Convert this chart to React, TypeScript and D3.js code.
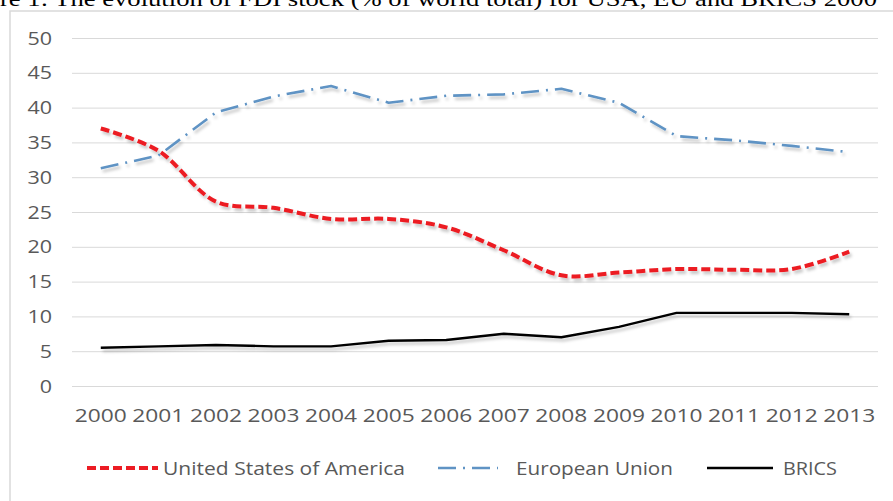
import React, { useRef, useEffect } from 'react';
import * as d3 from 'd3';

const years = ['2000', '2001', '2002', '2003', '2004', '2005', '2006', '2007', '2008', '2009', '2010', '2011', '2012', '2013'];
const usa = [37.0, 33.8, 26.5, 25.6, 24.0, 24.0, 22.8, 19.5, 15.9, 16.3, 16.8, 16.7, 16.8, 19.3];
const eu = [31.3, 33.1, 39.3, 41.6, 43.1, 40.7, 41.7, 41.9, 42.7, 40.7, 35.9, 35.3, 34.5, 33.6];
const brics = [5.5, 5.7, 5.9, 5.7, 5.7, 6.5, 6.6, 7.5, 7.0, 8.5, 10.5, 10.5, 10.5, 10.3];
const yTicks = [0, 5, 10, 15, 20, 25, 30, 35, 40, 45, 50];
const seriesNames = ['United States of America', 'European Union', 'BRICS'];
const title = 're 1: The evolution of FDI stock (% of world total) for USA, EU and BRICS 2000';

const W = 893;
const H = 501;
const FONT = '"Open Sans", "DejaVu Sans", sans-serif';
const TEXT = '#595959';

const App: React.FC = () => {
  const svgRef = useRef<SVGSVGElement>(null);

  useEffect(() => {
    if (!svgRef.current) return;
    const svg = d3.select(svgRef.current);
    svg.selectAll('*').remove();

    const x = d3.scaleBand<string>().domain(years).range([72, 878]);
    const y = d3.scaleLinear().domain([0, 50]).range([386, 38]);
    const cx = (d: string) => (x(d) as number) + x.bandwidth() / 2;

    const defs = svg.append('defs');
    defs.append('filter')
      .attr('id', 'shadow')
      .attr('x', '-5%').attr('y', '-20%').attr('width', '110%').attr('height', '140%')
      .append('feDropShadow')
      .attr('dx', 2).attr('dy', 3).attr('stdDeviation', 1.8)
      .attr('flood-color', '#000').attr('flood-opacity', 0.22);

    // title (cut off by the top of the picture)
    svg.append('text')
      .attr('x', 0).attr('y', 6)
      .attr('textLength', 877).attr('lengthAdjust', 'spacingAndGlyphs')
      .style('font-family', '"Times New Roman", "Liberation Serif", serif')
      .style('font-size', '22px')
      .attr('fill', '#000')
      .text(title);

    // chart frame
    svg.append('rect')
      .attr('x', 10).attr('y', 11).attr('width', 900).attr('height', 520)
      .attr('fill', '#fff').attr('stroke', '#d9d9d9').attr('stroke-width', 1.5);

    // gridlines
    svg.append('g').selectAll('line').data(yTicks).enter().append('line')
      .attr('x1', 72).attr('x2', 878)
      .attr('y1', d => y(d) + 0.5).attr('y2', d => y(d) + 0.5)
      .attr('stroke', '#d9d9d9').attr('stroke-width', 1);

    // y labels
    svg.append('g').selectAll('text').data(yTicks).enter().append('text')
      .attr('x', 52).attr('y', d => y(d) + 6.5)
      .attr('text-anchor', 'end')
      .attr('textLength', d => String(d).length * 12.3)
      .attr('lengthAdjust', 'spacingAndGlyphs')
      .style('font-family', FONT).style('font-size', '19px')
      .attr('fill', TEXT)
      .text(d => d);

    // x labels
    svg.append('g').selectAll('text').data(years).enter().append('text')
      .attr('x', d => cx(d) - 26).attr('y', 422)
      .attr('textLength', 52).attr('lengthAdjust', 'spacingAndGlyphs')
      .style('font-family', FONT).style('font-size', '19px')
      .attr('fill', TEXT)
      .text(d => d);

    const styles = [
      { values: usa, color: '#ec1c24', width: 4, dash: '9,4', curve: d3.curveCatmullRom.alpha(0.5) },
      { values: eu, color: '#5f93c4', width: 2.6, dash: '18,7,2,7', curve: d3.curveLinear },
      { values: brics, color: '#000', width: 2.4, dash: null, curve: d3.curveLinear },
    ];

    const lines = svg.append('g').attr('filter', 'url(#shadow)');
    styles.forEach(s => {
      const line = d3.line<number>()
        .x((_, i) => cx(years[i]))
        .y(d => y(d))
        .curve(s.curve);
      lines.append('path')
        .datum(s.values)
        .attr('d', line)
        .attr('fill', 'none')
        .attr('stroke', s.color)
        .attr('stroke-width', s.width)
        .attr('stroke-dasharray', s.dash)
        .attr('stroke-linejoin', 'round');
    });

    // legend
    const legendItems = [
      { x1: 87, x2: 158, tx: 163, tl: 242 },
      { x1: 438, x2: 498, tx: 516, tl: 157 },
      { x1: 707, x2: 773, tx: 783, tl: 54 },
    ];
    const lg = svg.append('g');
    legendItems.forEach((it, i) => {
      const s = styles[i];
      lg.append('line')
        .attr('x1', it.x1).attr('x2', it.x2).attr('y1', 468).attr('y2', 468)
        .attr('stroke', s.color).attr('stroke-width', s.width)
        .attr('stroke-dasharray', s.dash);
      lg.append('text')
        .attr('x', it.tx).attr('y', 475)
        .attr('textLength', it.tl).attr('lengthAdjust', 'spacingAndGlyphs')
        .style('font-family', FONT).style('font-size', '19px')
        .attr('fill', TEXT)
        .text(seriesNames[i]);
    });
  }, []);

  return (
    <svg
      ref={svgRef}
      width={W}
      height={H}
      style={{ position: 'absolute', left: 0, top: 0, background: '#fff' }}
    />
  );
};

export default App;
